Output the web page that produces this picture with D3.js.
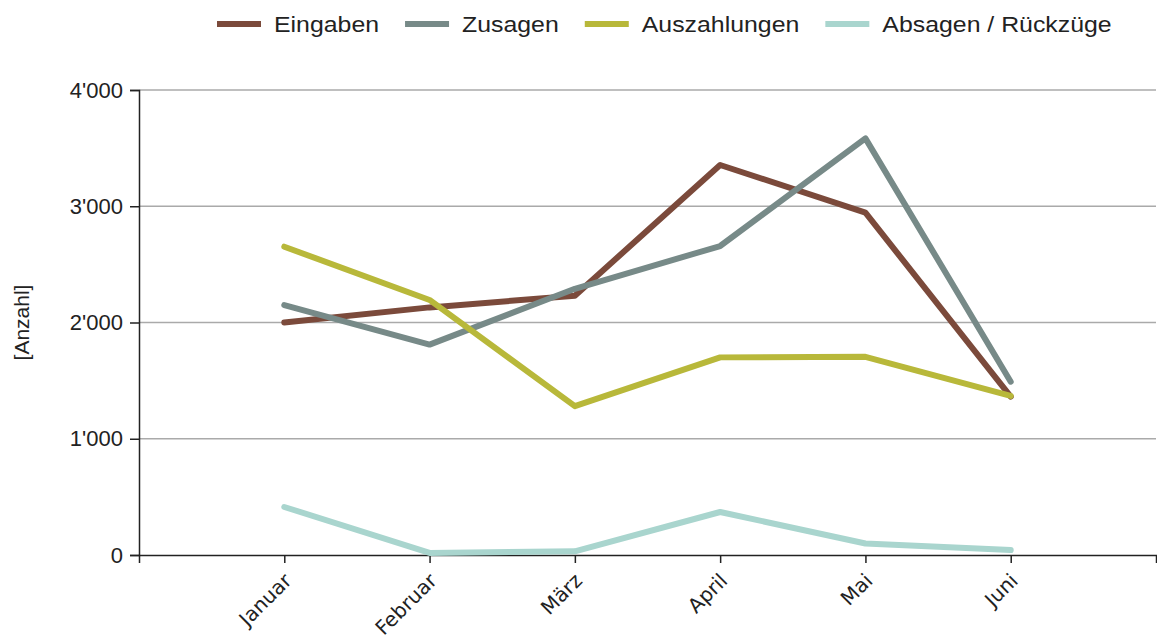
<!DOCTYPE html>
<html>
<head>
<meta charset="utf-8">
<script src="https://cdn.jsdelivr.net/npm/d3@7"></script>
<style>
  body { margin: 0; background: #fff; }
  svg { display: block; font-family: "Liberation Sans", Arial, sans-serif; }
</style>
</head>
<body>
<div id="chart"></div>
<script>
// data
var months = ["Januar", "Februar", "März", "April", "Mai", "Juni"];
var seriesNames = ["Eingaben", "Zusagen", "Auszahlungen", "Absagen / Rückzüge"];
var eingaben = [2000, 2130, 2230, 3355, 2945, 1362];
var zusagen = [2150, 1810, 2290, 2658, 3584, 1491];
var auszahlungen = [2652, 2194, 1280, 1700, 1705, 1368];
var absagen = [413, 18, 32, 370, 99, 43];
var yTicks = [0, 1000, 2000, 3000, 4000];
var colors = ["#7b4a3b", "#778a88", "#b8b83a", "#a9d5ce"];

var series = [eingaben, zusagen, auszahlungen, absagen];

var W = 1157, H = 639;
var margin = {top: 90, right: 1, bottom: 84, left: 139},
    width = W - margin.left - margin.right,
    height = H - margin.top - margin.bottom;

var svg = d3.select("#chart")
  .append("svg")
    .attr("width", W)
    .attr("height", H);

var g = svg.append("g")
    .attr("transform", "translate(" + margin.left + "," + margin.top + ")");

var x = d3.scalePoint()
  .domain(months)
  .range([0, width])
  .padding(1);

var y = d3.scaleLinear()
  .domain([0, 4000])
  .range([height, 0]);

var fmt = d3.formatLocale({decimal: ".", thousands: "'", grouping: [3], currency: ["", ""]}).format(",");

// grid lines
g.append("g")
  .selectAll("line")
  .data(yTicks.slice(1))
  .enter()
  .append("line")
    .attr("x1", 0)
    .attr("x2", width)
    .attr("y1", function(d) { return y(d); })
    .attr("y2", function(d) { return y(d); })
    .attr("stroke", "#aaaaaa")
    .attr("stroke-width", 1.3);

// Y axis
var yAxis = g.append("g")
  .call(d3.axisLeft(y).tickValues(yTicks).tickFormat(fmt).tickSize(9).tickPadding(7));
yAxis.selectAll("text")
  .style("font-size", "22px")
  .attr("fill", "#222");
yAxis.selectAll("path, line").attr("stroke", "#222").attr("stroke-width", 1.5);

// X axis
var xAxis = g.append("g")
  .attr("transform", "translate(0," + height + ")")
  .call(d3.axisBottom(x).tickSize(8));
xAxis.selectAll("path, line").attr("stroke", "#222").attr("stroke-width", 1.5);
xAxis.selectAll("text")
  .style("font-family", "'DejaVu Sans', sans-serif")
  .style("font-size", "20px")
  .attr("fill", "#222")
  .attr("y", 0)
  .attr("dy", "0.35em")
  .attr("transform", "translate(3,22) rotate(-45)")
  .style("text-anchor", "end");

// y label
svg.append("text")
  .attr("transform", "translate(29," + (margin.top + y(2000)) + ") rotate(-90)")
  .attr("text-anchor", "middle")
  .style("font-size", "21px")
  .attr("fill", "#222")
  .text("[Anzahl]");

// lines
var line = d3.line()
  .x(function(d, i) { return x(months[i]); })
  .y(function(d) { return y(d); });

g.selectAll(".series")
  .data(series)
  .enter()
  .append("path")
    .attr("class", "series")
    .attr("d", line)
    .attr("fill", "none")
    .attr("stroke", function(d, i) { return colors[i]; })
    .attr("stroke-width", 6)
    .attr("stroke-linejoin", "round")
    .attr("stroke-linecap", "round");

// legend (text slightly stretched like the reference)
var legend = svg.append("g");
var lx = 217, stretch = 1.13;
seriesNames.forEach(function(name, i) {
  var item = legend.append("g").attr("transform", "translate(" + lx + ",24)");
  item.append("line")
    .attr("x1", 0).attr("x2", 44)
    .attr("stroke", colors[i])
    .attr("stroke-width", 6);
  var t = item.append("text")
    .attr("transform", "translate(57,0) scale(" + stretch + ",1)")
    .attr("dy", "0.35em")
    .style("font-size", "22px")
    .attr("fill", "#222")
    .text(name);
  lx += 57 + t.node().getComputedTextLength() * stretch + 26;
});
</script>
</body>
</html>
